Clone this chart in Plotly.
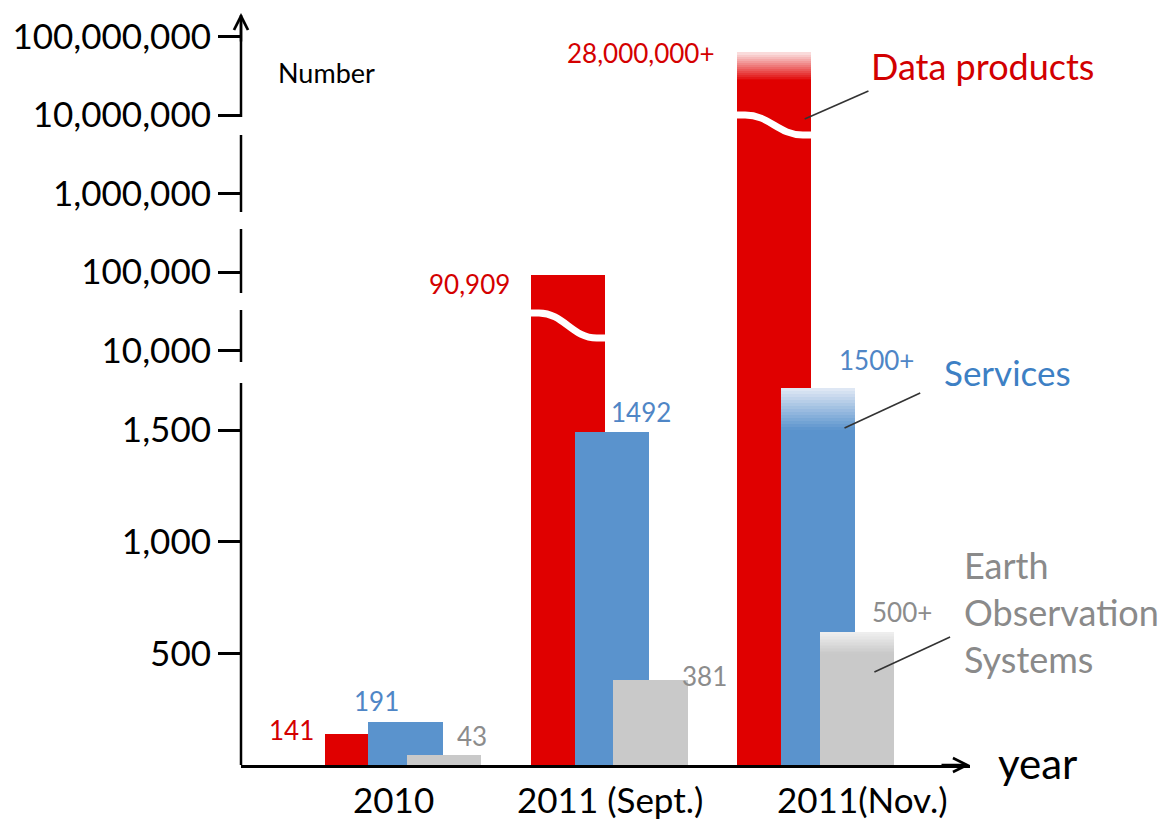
import math
import plotly.graph_objects as go

# ---------------- data ----------------
categories = ["2010", "2011 (Sept.)", "2011(Nov.)"]
data_products = [141, 90909, 28000000]
services = [191, 1492, 1500]
eo_systems = [43, 381, 500]
dp_labels = ["141", "90,909", "28,000,000+"]
sv_labels = ["191", "1492", "1500+"]
eo_labels = ["43", "381", "500+"]
open_ended = [False, False, True]          # values shown with "+" (fading tops)
lin_ticks = [500, 1000, 1500]
lin_tick_labels = ["500", "1,000", "1,500"]
log_ticks = [10000, 100000, 1000000, 10000000, 100000000]
log_tick_labels = ["10,000", "100,000", "1,000,000", "10,000,000", "100,000,000"]

# ---------------- style / layout ----------------
W, H = 1164, 820
ML, MR, MT, MB = 238, 194, 13, 55
PW, PH = W - ML - MR, H - MT - MB
FONT = "Lato, 'Open Sans', sans-serif"
RED, BLUE, GRAY = "#e00000", "#5a93cd", "#c9c9c9"
RED_T, BLUE_T, GRAY_T = "#d40000", "#4f86c6", "#8c8c8c"
RED_L, BLUE_L, GRAY_L = "#fbe3e3", "#e3eaf5", "#efefef"

CAT_STEP = 207.0                      # px per category
X0 = -(401 - ML) / CAT_STEP           # x-range start (category units)
X1 = X0 + PW / CAT_STEP
BAR_W = 0.36
OFF = {"dp": -0.382, "sv": -0.169, "eo": 0.019}

LIN_PX = 0.2233                       # px per unit on the linear part
JOIN_PX = 372                         # pixel row where linear meets log part
LIN_DOM = (H - MB - JOIN_PX) / PH
LIN_TOP = (H - MB - JOIN_PX) / LIN_PX
DEC_PX = 78.5                         # px per decade on the log part
LOG6_PX = 193.6                       # pixel row of 1,000,000
LOG_LO = 6 - (JOIN_PX - LOG6_PX) / DEC_PX
LOG_HI = 6 + (LOG6_PX - MT) / DEC_PX

FADE_N = 14
FADE = {"dp": 10 ** 0.353, "sv": 190, "eo": 95}


def px_x(px):
    return (px - ML) / PW


def px_y(py):
    return (H - MB - py) / PH


def mix(c1, c2, t):
    a = [int(c1[i:i + 2], 16) for i in (1, 3, 5)]
    b = [int(c2[i:i + 2], 16) for i in (1, 3, 5)]
    return "rgb(%d,%d,%d)" % tuple(round(a[k] + (b[k] - a[k]) * t) for k in range(3))


fig = go.Figure()

# red series: linear part (clipped at top of linear panel) and log part
fig.add_trace(go.Bar(x=categories, y=data_products, offset=OFF["dp"], width=BAR_W,
                     marker=dict(color=RED, line=dict(width=0)), xaxis="x", yaxis="y",
                     hoverinfo="skip", showlegend=False))
fig.add_trace(go.Bar(x=categories, y=[v - 1 for v in data_products], base=[1] * 3,
                     offset=OFF["dp"], width=BAR_W,
                     marker=dict(color=RED, line=dict(width=0)), xaxis="x", yaxis="y2",
                     hoverinfo="skip", showlegend=False))


def fade_trace(values, key, c0, c1, axis, log=False):
    xs, bases, ys, cols = [], [], [], []
    for cat, v, oe in zip(categories, values, open_ended):
        if not oe:
            continue
        for i in range(FADE_N):
            if log:
                b0 = v * FADE[key] ** (i / FADE_N)
                b1 = v * FADE[key] ** ((i + 1) / FADE_N)
            else:
                b0 = v + FADE[key] * i / FADE_N
                b1 = v + FADE[key] * (i + 1) / FADE_N
            xs.append(cat)
            bases.append(b0)
            ys.append(b1 - b0)
            cols.append(mix(c0, c1, (i + 0.5) / FADE_N))
    return go.Bar(x=xs, y=ys, base=bases, offset=OFF[key], width=BAR_W,
                  marker=dict(color=cols, line=dict(width=0)), xaxis="x", yaxis=axis,
                  hoverinfo="skip", showlegend=False)


fig.add_trace(fade_trace(data_products, "dp", RED, RED_L, "y2", log=True))
fig.add_trace(go.Bar(x=categories, y=services, offset=OFF["sv"], width=BAR_W,
                     marker=dict(color=BLUE, line=dict(width=0)), xaxis="x", yaxis="y",
                     hoverinfo="skip", showlegend=False))
fig.add_trace(fade_trace(services, "sv", BLUE, BLUE_L, "y"))
fig.add_trace(go.Bar(x=categories, y=eo_systems, offset=OFF["eo"], width=BAR_W,
                     marker=dict(color=GRAY, line=dict(width=0)), xaxis="x", yaxis="y",
                     hoverinfo="skip", showlegend=False))
fig.add_trace(fade_trace(eo_systems, "eo", GRAY, GRAY_L, "y"))

shapes = []
# broken y-axis line
segs = [(383, H - MB), (310, 362), (229, 293), (135, 212), (MT + 2, 117)]
for a, b in segs:
    shapes.append(dict(type="line", xref="paper", yref="paper", x0=0, x1=0,
                       y0=px_y(a), y1=px_y(b), line=dict(color="black", width=2.5)))


# wavy break marks on the two tall red bars
def wave(ci, y_hi_px, y_lo_px):
    l = ci + OFF["dp"] - 0.02
    r = ci + OFF["dp"] + BAR_W + 0.02
    m1 = l + (r - l) * 0.45
    m2 = l + (r - l) * 0.55
    a, b = px_y(y_hi_px), px_y(y_lo_px)
    path = "M %f,%f L %f,%f C %f,%f %f,%f %f,%f L %f,%f" % (
        l, a, l + 0.06, a, m1, a, m2, b, r - 0.06, b, r, b)
    return dict(type="path", xref="x", yref="paper", path=path, layer="above",
                line=dict(color="white", width=7))


shapes.append(wave(1, 313, 338))
shapes.append(wave(2, 115, 135))

# leader lines
for (x0, y0, x1, y1) in [(868, 91, 804, 119), (920, 393, 844, 428), (950, 637, 874, 672)]:
    shapes.append(dict(type="line", xref="paper", yref="paper", x0=px_x(x0), y0=px_y(y0),
                       x1=px_x(x1), y1=px_y(y1), layer="above",
                       line=dict(color="#333333", width=1.6)))

ann = []
# arrows on axes
ann.append(dict(xref="paper", yref="paper", x=0, y=1, ax=0, ay=30, text="",
                showarrow=True, arrowhead=5, arrowsize=1.1, arrowwidth=2.5, arrowcolor="black"))
ann.append(dict(xref="paper", yref="paper", x=1, y=0, ax=-30, ay=0, text="",
                showarrow=True, arrowhead=5, arrowsize=1.1, arrowwidth=2.5, arrowcolor="black"))


def yref_for(v):
    if v <= LIN_TOP:
        return "y", v
    return "y2", math.log10(v)


# value labels
LBL = {
    "dp": dict(px=[313, 510, 716], dy=[4, -9, -1], anchor="right", color=RED_T),
    "sv": dict(px=[374, 640, 876], dy=[21, 20, 28], anchor="center", color=BLUE_T),
    "eo": dict(px=[470, 703, 902], dy=[19, 4, 20], anchor="center", color=GRAY_T),
}
for key, vals, texts in [("dp", data_products, dp_labels), ("sv", services, sv_labels),
                         ("eo", eo_systems, eo_labels)]:
    st = LBL[key]
    for i, (v, t) in enumerate(zip(vals, texts)):
        top = v
        if open_ended[i]:
            top = v * FADE[key] if key == "dp" else v + FADE[key]
        yr, yv = yref_for(top)
        ann.append(dict(xref="paper", yref=yr, x=px_x(st["px"][i]), y=yv, yshift=st["dy"][i],
                        xanchor=st["anchor"], yanchor="middle", text=t, showarrow=False,
                        font=dict(family=FONT, size=26, color=st["color"])))

# category labels
CAT_PX = [391, 609, 862]
for c, p in zip(categories, CAT_PX):
    ann.append(dict(xref="paper", yref="paper", x=px_x(p), y=px_y(799), text=c,
                    showarrow=False, xanchor="center", yanchor="middle",
                    font=dict(family=FONT, size=35, color="black")))

# series names and axis titles
ann.append(dict(xref="paper", yref="paper", x=px_x(869), y=px_y(66), text="Data products",
                showarrow=False, xanchor="left", yanchor="middle",
                font=dict(family=FONT, size=36, color="#d20000")))
ann.append(dict(xref="paper", yref="paper", x=px_x(942), y=px_y(372), text="Services",
                showarrow=False, xanchor="left", yanchor="middle",
                font=dict(family=FONT, size=35, color="#3d80c4")))
ann.append(dict(xref="paper", yref="paper", x=px_x(962), y=px_y(612),
                text="Earth<br>Observation<br>Systems", align="left",
                showarrow=False, xanchor="left", yanchor="middle",
                font=dict(family=FONT, size=36, color="#8a8a8a")))
ann.append(dict(xref="paper", yref="paper", x=px_x(273), y=px_y(73), text="Number",
                showarrow=False, xanchor="left", yanchor="middle",
                font=dict(family=FONT, size=27, color="black")))
ann.append(dict(xref="paper", yref="paper", x=px_x(996), y=px_y(763), text="year",
                showarrow=False, xanchor="left", yanchor="middle",
                font=dict(family=FONT, size=42, color="black")))

fig.update_layout(
    width=W, height=H, margin=dict(l=ML, r=MR, t=MT, b=MB),
    paper_bgcolor="white", plot_bgcolor="white",
    barmode="overlay", bargap=0, showlegend=False,
    font=dict(family=FONT, color="black"),
    xaxis=dict(type="category", range=[X0, X1], showgrid=False, zeroline=False,
               showline=True, linecolor="black", linewidth=2.5, ticks="",
               showticklabels=False, anchor="y", fixedrange=True),
    yaxis=dict(domain=[0, LIN_DOM], range=[0, LIN_TOP], showgrid=False, zeroline=False,
               showline=False, ticks="outside", ticklen=22, tickwidth=2.5, tickcolor="black",
               tickvals=lin_ticks, ticktext=lin_tick_labels,
               tickfont=dict(family=FONT, size=35, color="black"), fixedrange=True),
    yaxis2=dict(domain=[LIN_DOM, 1], type="log", range=[LOG_LO, LOG_HI], showgrid=False,
                zeroline=False, showline=False, ticks="outside", ticklen=22, tickwidth=2.5,
                tickcolor="black", tickvals=log_ticks, ticktext=log_tick_labels,
                tickfont=dict(family=FONT, size=35, color="black"), anchor="x",
                fixedrange=True),
    shapes=shapes, annotations=ann,
)

fig.write_html("out.html", config={"displayModeBar": False},
               post_script="document.body.style.margin='0';")
